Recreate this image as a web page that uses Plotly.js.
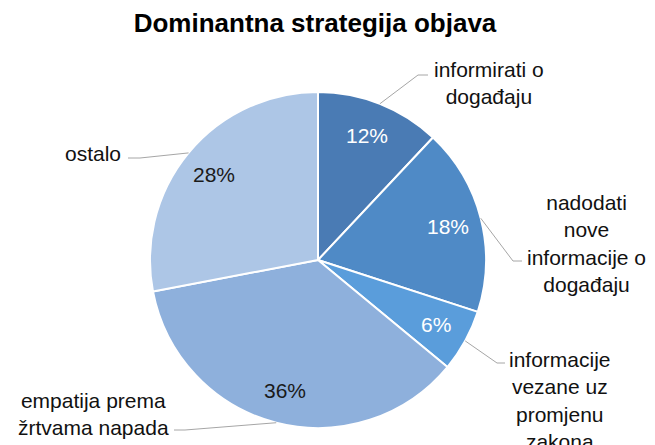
<!DOCTYPE html>
<html>
<head>
<meta charset="utf-8">
<script src="https://cdn.plot.ly/plotly-3.0.1.min.js"></script>
<style>html,body{margin:0;padding:0;background:#fff;}#chart{width:655px;height:445px;}</style>
</head>
<body>
<div id="chart"></div>
<script>
// ---- data ----
const categories = [
  "informirati o<br>događaju",
  "nadodati<br>nove<br>informacije o<br>događaju",
  "informacije<br>vezane uz<br>promjenu<br>zakona",
  "empatija prema<br>žrtvama napada",
  "ostalo"
];
const values = [12, 18, 6, 36, 28];
const chartTitle = "Dominantna strategija objava";

// ---- styles / layout ----
const colors = ["#4a7bb4", "#4f8ac6", "#5a9ddb", "#8eb0dc", "#adc6e6"];
const pctColors = ["#ffffff", "#ffffff", "#ffffff", "#1a1a1a", "#1a1a1a"];
const W = 655, H = 445;
const cx = 318, cy = 260, R = 168;
// label centres (px) and leader-line elbows / ends (px)
const labelPos = [[489, 83], [586, 243], [560, 400], [93, 414], [93, 153]];
const elbow = [[418, 75], [513, 261], [497, 363], [185, 430], [140, 158]];
const lineEnd = [[428, 75], [522, 261], [505, 363], [174, 430], [128, 158]];
const FONT = "Liberation Sans, Arial, sans-serif";

const px = x => x / W;
const py = y => 1 - y / H;

const total = values.reduce((a, b) => a + b, 0);
const annotations = [];
const shapes = [];
let cum = 0;
values.forEach((v, i) => {
  const mid = (cum + v / 2) / total * 2 * Math.PI;
  cum += v;
  const sx = Math.sin(mid), sy = -Math.cos(mid);
  // percentage inside
  const tx = cx + 0.8 * R * sx, ty = cy + 0.8 * R * sy;
  annotations.push({
    xref: "paper", yref: "paper", x: px(tx), y: py(ty),
    text: Math.round(v / total * 100) + "%", showarrow: false,
    xanchor: "center", yanchor: "middle",
    font: {family: FONT, size: 21, color: pctColors[i]}
  });
  // category label outside
  annotations.push({
    xref: "paper", yref: "paper", x: px(labelPos[i][0]), y: py(labelPos[i][1]),
    text: categories[i], showarrow: false, align: "center",
    xanchor: "center", yanchor: "middle",
    font: {family: FONT, size: 21, color: "#111111"}
  });
  // leader line from slice edge
  const ex = cx + R * sx, ey = cy + R * sy;
  shapes.push({
    type: "path", xref: "paper", yref: "paper",
    path: `M ${px(ex)},${py(ey)} L ${px(elbow[i][0])},${py(elbow[i][1])} L ${px(lineEnd[i][0])},${py(lineEnd[i][1])}`,
    line: {color: "#a6a6a6", width: 1}
  });
});

const trace = {
  type: "pie",
  labels: categories,
  values: values,
  sort: false,
  direction: "clockwise",
  rotation: 0,
  textinfo: "none",
  hoverinfo: "none",
  marker: {colors: colors, line: {color: "#ffffff", width: 2}},
  domain: {x: [(cx - R) / W, (cx + R) / W], y: [1 - (cy + R) / H, 1 - (cy - R) / H]},
  showlegend: false
};

const layout = {
  width: W, height: H,
  margin: {l: 0, r: 0, t: 0, b: 0},
  paper_bgcolor: "#ffffff",
  title: {
    text: chartTitle, x: px(315), y: py(23), xanchor: "center", yanchor: "middle",
    font: {family: FONT, size: 26, color: "#000000", weight: "bold"}
  },
  annotations: annotations,
  shapes: shapes
};

Plotly.newPlot("chart", [trace], layout, {staticPlot: true, displayModeBar: false});
</script>
</body>
</html>
